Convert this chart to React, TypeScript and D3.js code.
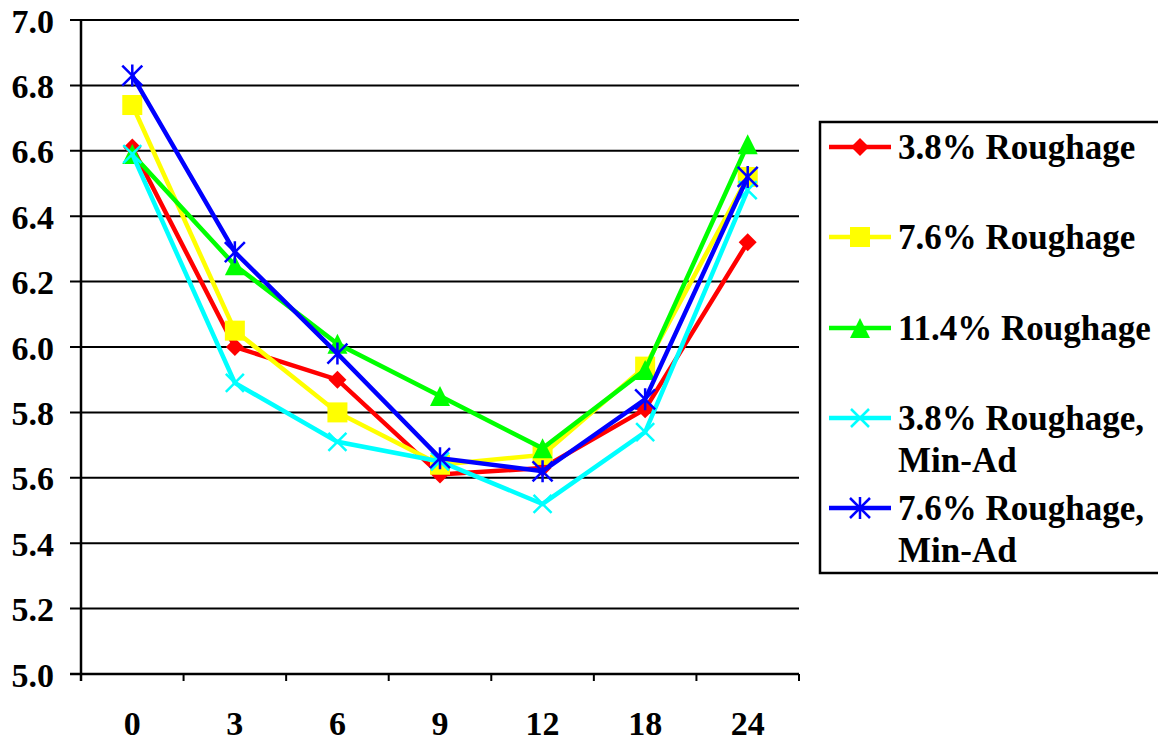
import React from "react";
import * as d3 from "d3";

const categories = ["0", "3", "6", "9", "12", "18", "24"];
const seriesNames = [
  ["3.8% Roughage"],
  ["7.6% Roughage"],
  ["11.4% Roughage"],
  ["3.8% Roughage,", "Min-Ad"],
  ["7.6% Roughage,", "Min-Ad"],
];
const rough38 = [6.61, 6.0, 5.9, 5.61, 5.63, 5.81, 6.32];
const rough76 = [6.74, 6.05, 5.8, 5.64, 5.67, 5.94, 6.52];
const rough114 = [6.59, 6.25, 6.01, 5.85, 5.69, 5.93, 6.62];
const rough38Min = [6.59, 5.89, 5.71, 5.65, 5.52, 5.74, 6.48];
const rough76Min = [6.83, 6.29, 5.98, 5.66, 5.62, 5.84, 6.52];
const yTicks = [5.0, 5.2, 5.4, 5.6, 5.8, 6.0, 6.2, 6.4, 6.6, 6.8, 7.0];

const colors = ["#FF0000", "#FFFF00", "#00FF00", "#00FFFF", "#0000FF"];
const markers = ["diamond", "square", "triangle", "x", "star"];
const allSeries = [rough38, rough76, rough114, rough38Min, rough76Min];

const FONT = "'Liberation Serif', 'Times New Roman', serif";

function Marker({ type, x, y, color }: { type: string; x: number; y: number; color: string }) {
  if (type === "diamond") {
    const r = 9;
    return <path d={`M${x},${y - r}L${x + r},${y}L${x},${y + r}L${x - r},${y}Z`} fill={color} />;
  }
  if (type === "square") {
    const r = 10;
    return <rect x={x - r} y={y - r} width={2 * r} height={2 * r} fill={color} />;
  }
  if (type === "triangle") {
    const r = 10;
    return <path d={`M${x},${y - r}L${x + r},${y + r}L${x - r},${y + r}Z`} fill={color} />;
  }
  if (type === "x") {
    const r = 9;
    return (
      <path
        d={`M${x - r},${y - r}L${x + r},${y + r}M${x - r},${y + r}L${x + r},${y - r}`}
        stroke={color}
        strokeWidth={2.5}
      />
    );
  }
  const r = 10;
  return (
    <path
      d={`M${x - r},${y - r}L${x + r},${y + r}M${x - r},${y + r}L${x + r},${y - r}M${x},${y - r - 1}L${x},${y + r + 1}`}
      stroke={color}
      strokeWidth={2.5}
    />
  );
}

export default function App() {
  const W = 1158;
  const H = 743;
  const left = 81;
  const right = 799;
  const top = 20;
  const bottom = 674;

  const x = d3.scaleBand<string>().domain(categories).range([left, right]);
  const y = d3.scaleLinear().domain([5.0, 7.0]).range([bottom, top]);
  const line = d3
    .line<number>()
    .x((_, i) => (x(categories[i]) as number) + x.bandwidth() / 2)
    .y((d) => y(d));

  const legendRowsY = [147, 237, 328, 418, 508];

  return (
    <svg
      width={W}
      height={H}
      style={{ position: "absolute", left: 0, top: 0, background: "#fff" }}
      fontFamily={FONT}
    >
      <rect x={0} y={0} width={W} height={H} fill="#fff" />
      {yTicks.map((t) => (
        <g key={t}>
          <line x1={left - 11} x2={right} y1={y(t)} y2={y(t)} stroke="#000" strokeWidth={2} />
          <text
            x={54}
            y={y(t) + 1}
            textAnchor="end"
            dominantBaseline="central"
            fontSize={34}
            fontWeight="bold"
          >
            {t.toFixed(1)}
          </text>
        </g>
      ))}
      <line x1={left} x2={left} y1={top} y2={bottom + 7} stroke="#000" strokeWidth={2.5} />
      <line x1={left - 11} x2={right} y1={bottom} y2={bottom} stroke="#000" strokeWidth={2.5} />
      {categories.map((c) => (
        <g key={c}>
          <line
            x1={x(c) as number}
            x2={x(c) as number}
            y1={bottom}
            y2={bottom + 7}
            stroke="#000"
            strokeWidth={2}
          />
          <text
            x={(x(c) as number) + x.bandwidth() / 2}
            y={735}
            textAnchor="middle"
            fontSize={34}
            fontWeight="bold"
          >
            {c}
          </text>
        </g>
      ))}
      <line x1={right} x2={right} y1={bottom} y2={bottom + 7} stroke="#000" strokeWidth={2} />

      {allSeries.map((s, si) => (
        <g key={si}>
          <path d={line(s) as string} fill="none" stroke={colors[si]} strokeWidth={4.5} />
          {s.map((v, i) => (
            <Marker
              key={i}
              type={markers[si]}
              x={(x(categories[i]) as number) + x.bandwidth() / 2}
              y={y(v)}
              color={colors[si]}
            />
          ))}
        </g>
      ))}

      <rect x={820} y={122} width={345} height={451} fill="#fff" stroke="#000" strokeWidth={2.5} />
      {seriesNames.map((names, si) => (
        <g key={si}>
          <line
            x1={829}
            x2={891}
            y1={legendRowsY[si]}
            y2={legendRowsY[si]}
            stroke={colors[si]}
            strokeWidth={4.5}
          />
          <Marker type={markers[si]} x={860} y={legendRowsY[si]} color={colors[si]} />
          {names.map((n, li) => (
            <text
              key={li}
              x={898}
              y={legendRowsY[si] + li * 42}
              dominantBaseline="central"
              fontSize={35}
              fontWeight="bold"
            >
              {n}
            </text>
          ))}
        </g>
      ))}
    </svg>
  );
}
